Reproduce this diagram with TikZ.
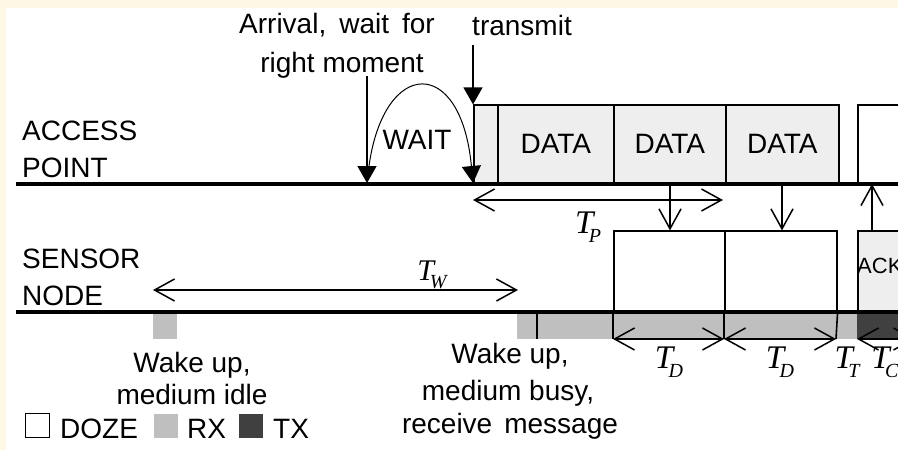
\documentclass[tikz,border=0pt]{standalone}
\usepackage{fontspec}
\setmainfont{Liberation Sans}
\newfontfamily\tserif{Liberation Serif}
\usetikzlibrary{arrows.meta}
\definecolor{cream}{RGB}{255,247,230}
\definecolor{boxgray}{RGB}{238,238,238}
\definecolor{rxgray}{RGB}{191,191,191}
\definecolor{txdark}{RGB}{64,64,64}
\newcommand{\Tlab}[2][33]{{\tserif\itshape\fontsize{#1}{#1}\selectfont T\kern-0.14em\raisebox{-0.28em}{\fontsize{20}{20}\selectfont #2}}}
\begin{document}
\begin{tikzpicture}[x=1pt,y=-1pt,
  font=\fontsize{28}{30}\selectfont,
  lbl/.style={inner sep=0pt, anchor=base},
  lblw/.style={inner sep=0pt, anchor=base west},
  timeline/.style={line width=3.5pt},
  box/.style={draw, line width=1.6pt, fill=boxgray, inner sep=0pt, anchor=south west},
  wbox/.style={box, fill=white},
  fat/.style={-{Triangle[width=19pt,length=17pt]}, line width=1.5pt},
  dim/.style={{Straight Barb[length=20pt,width=22pt,line width=1.5pt]}-{Straight Barb[length=20pt,width=22pt,line width=1.5pt]}, line width=1.5pt},
  sig/.style={-{Straight Barb[length=20pt,width=22pt,line width=1.5pt]}, line width=1.5pt},
  legsq/.style={minimum size=24pt, inner sep=0pt, anchor=south west}
]
\useasboundingbox (0,0) rectangle (898,450);
\fill[cream] (0,0) rectangle (898,450);
\fill[white] (6,8) rectangle (898,450);
\clip (6,8) rectangle (898,450);

% state bars below sensor line
\fill[rxgray] (153,312) rectangle (177,339);
\fill[rxgray] (517,312) rectangle (857,339);
\fill[txdark] (857,312) rectangle (910,339);
\draw[line width=1.5pt] (537,312) -- (537,339);

% access point boxes
\node[box, minimum width=24pt, minimum height=78pt] (pre) at (473,184) {};
\node[box, minimum width=116pt, minimum height=78pt] (data1) at (497,184) {DATA};
\node[box, minimum width=112pt, minimum height=78pt] (data2) at (613,184) {DATA};
\node[box, minimum width=113pt, minimum height=78pt] (data3) at (725,184) {DATA};
\node[wbox, minimum width=60pt, minimum height=78pt] (nxt) at (857,184) {};

% sensor boxes
\node[wbox, minimum width=111pt, minimum height=80pt] (s1) at (613,312) {};
\node[wbox, minimum width=112pt, minimum height=80pt] (s2) at (724,312) {};
\node[box, minimum width=60pt, minimum height=80pt] (ack) at (857,312) {};
\node[inner sep=0pt, anchor=west, font=\fontsize{22}{24}\selectfont] (acktxt) at (857,266) {ACK};

% time lines
\coordinate (apL) at (16,184);
\coordinate (apR) at (910,184);
\coordinate (snL) at (16,312);
\coordinate (snR) at (910,312);
\draw[timeline] (apL) -- (apR);
\draw[timeline] (snL) -- (snR);

% labels
\node[lblw] (ap1) at (22,140) {ACCESS};
\node[lblw] (ap2) at (22,177) {POINT};
\node[lblw] (sn1) at (22,268) {SENSOR};
\node[lblw] (sn2) at (22,305) {NODE};

% arrival and transmit
\node[lbl] (arr1) at (337,33) {Arrival,\hspace{13pt}wait\hspace{13pt}for};
\node[lbl] (arr2) at (342,72) {right moment};
\node[lbl] (tx) at (522,35) {transmit};
\coordinate (arrTop) at (367,76);
\coordinate (arrBot) at (367,183);
\draw[fat] (arrTop) -- (arrBot);
\coordinate (txTop) at (473,45);
\draw[fat] (txTop) -- (pre.north west);
\coordinate (waitStart) at (369,166);
\coordinate (waitEnd) at (473,183);
\draw[-{Triangle[width=19pt,length=17pt]}, line width=1pt] (waitStart) .. controls (384,58) and (461,55) .. (waitEnd);
\node[lbl] (wait) at (417,149) {WAIT};

% T_P
\coordinate (tp0) at (473,200);
\coordinate (tp1) at (723,200);
\draw[dim] (tp0) -- (tp1);
\node[lbl] (tplab) at (588,233) {\Tlab{P}};

% signals AP -> sensor and back
\coordinate (g1) at (670,184);
\coordinate (g2) at (782,184);
\coordinate (g3) at (872,184);
\draw[sig] (g1) -- (g1 |- s1.north);
\draw[sig] (g2) -- (g2 |- s2.north);
\draw[sig] (g3 |- ack.north) -- (g3);

% T_W
\coordinate (tw0) at (153,290);
\coordinate (tw1) at (518,290);
\draw[dim] (tw0) -- (tw1);
\node[lbl] (twlab) at (432,280) {\Tlab[30]{W}};

% T_D, T_T, T_C
\coordinate (d0) at (613,339);
\coordinate (d1) at (724,339);
\coordinate (d2) at (836,339);
\coordinate (d3) at (857,339);
\coordinate (d4) at (915,339);
\draw[line width=1.6pt] (s1.south west) -- (d0);
\draw[line width=1.6pt] (s2.south west) -- (d1);
\draw[line width=1.6pt] (s2.south east) -- (d2);
\draw[dim] (d0) -- (d1);
\draw[dim] (d1) -- (d2);
\draw[dim] (d3) -- (d4);
\node[lbl] (td1) at (669,368) {\Tlab{D}};
\node[lbl] (td2) at (780,368) {\Tlab{D}};
\node[lbl] (tt) at (847,368) {\Tlab{T}};
\node[lbl] (tc) at (885,368) {\Tlab{C}};

% wake up texts
\node[lbl] (wu1) at (192,372) {Wake up,};
\node[lbl] (wu2) at (192,404) {medium idle};
\node[lbl] (wb1) at (510,363) {Wake up,};
\node[lbl] (wb2) at (508,400) {medium busy,};
\node[lbl] (wb3) at (510,433) {receive\hspace{12pt}message};

% legend
\node[legsq, draw, line width=1.3pt, fill=white] (lz) at (25,438) {};
\node[lblw] (lzt) at (60,438) {DOZE};
\node[legsq, fill=rxgray] (lr) at (154,438) {};
\node[lblw] (lrt) at (187,438) {RX};
\node[legsq, fill=txdark] (lt) at (239,438) {};
\node[lblw] (ltt) at (273,438) {TX};
\end{tikzpicture}
\end{document}
